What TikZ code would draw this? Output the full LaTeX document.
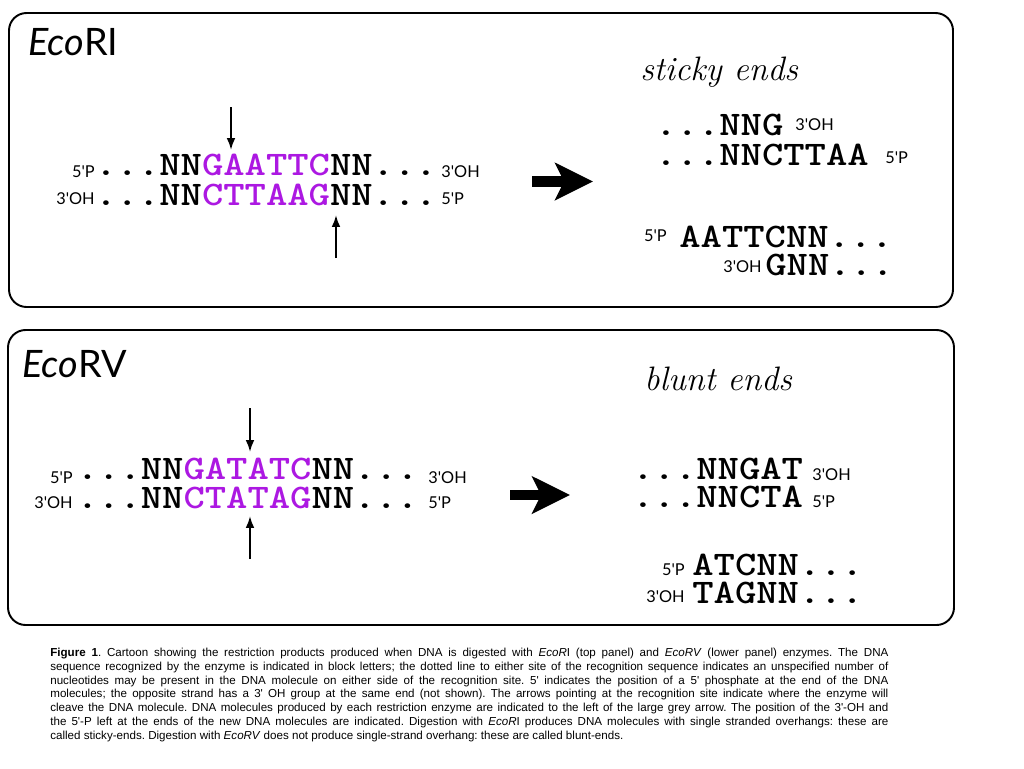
\documentclass[tikz,border=0pt]{standalone}
\usepackage{fontspec}
\usepackage{tikz}
\usetikzlibrary{arrows.meta}
\newfontfamily\seqfont{lmmonolt10-bold}[Extension=.otf, FakeStretch=1.18]
\newfontfamily\labfont{Lato}[Ligatures=TeXOff]
\newfontfamily\capfont{Liberation Sans}[Ligatures=TeXOff]
\definecolor{site}{RGB}{172,24,226}

\begin{document}
\begin{tikzpicture}[x=0.02cm, y=-0.02cm,
    panel/.style={draw, line width=1.1pt, rounded corners=10pt},
    seq/.style={inner sep=0pt, anchor=base west, font=\fontsize{19.6pt}{20pt}\selectfont\seqfont},
    lab/.style={inner sep=0pt, font=\fontsize{9.3pt}{10pt}\selectfont\labfont},
    title/.style={inner sep=0pt, anchor=base west, font=\fontsize{21.5pt}{22pt}\selectfont\labfont},
    ends/.style={inner sep=0pt, anchor=base west, font=\fontsize{19.3pt}{20pt}\selectfont\itshape},
    cut/.style={line width=1.1pt, -{Latex[length=6.8pt, width=5pt]}},
    bigarrow/.style={line width=6.2pt, -{Stealth[length=21.5pt, width=21pt, inset=5pt]}}]
    \useasboundingbox (0,0) rectangle (1024,768);
    \fill[white] (0,0) rectangle (1024,768);

    \draw[panel] (9,13) rectangle (953,307);
    \draw[panel] (8,330) rectangle (954,625);

    % EcoRI
    \node[title] (titleRI) at (28,55) {\textit{Eco}RI};
    \node[seq] (topRI) at (95,175) {...NN\textcolor{site}{GAATTC}NN...};
    \node[seq] (botRI) at (95,205) {...NN\textcolor{site}{CTTAAG}NN...};
    \node[lab, anchor=base east] (topRIl) at (95,177) {5'P};
    \node[lab, anchor=base east] (botRIl) at (95,204) {3'OH};
    \node[lab, anchor=base west] (topRIr) at (441,177) {3'OH};
    \node[lab, anchor=base west] (botRIr) at (441,204) {5'P};
    \coordinate (cutRIa) at (231,107);
    \coordinate (cutRIb) at (231,150);
    \coordinate (cutRIc) at (336,258);
    \coordinate (cutRId) at (336,215);
    \draw[cut] (cutRIa) -- (cutRIb);
    \draw[cut] (cutRIc) -- (cutRId);
    \coordinate (goRIa) at (532,181.5);
    \coordinate (goRIb) at (593,181.5);
    \draw[bigarrow] (goRIa) -- (goRIb);
    \node[ends] (sticky) at (640,80) {sticky ends};
    \node[seq] (stA) at (655,135) {...NNG};
    \node[lab, anchor=base west] (stAl) at (795,130) {3'OH};
    \node[seq] (stB) at (655,165) {...NNCTTAA};
    \node[lab, anchor=base west] (stBl) at (885,163) {5'P};
    \node[seq] (stC) at (679,247) {AATTCNN...};
    \node[lab, anchor=base east] (stCl) at (667,241) {5'P};
    \node[seq] (stD) at (765,275) {GNN...};
    \node[lab, anchor=base east] (stDl) at (762,272) {3'OH};

    % EcoRV
    \node[title] (titleRV) at (22,377) {\textit{Eco}RV};
    \node[seq] (topRV) at (76.5,479) {...NN\textcolor{site}{GATATC}NN...};
    \node[seq] (botRV) at (76.5,508) {...NN\textcolor{site}{CTATAG}NN...};
    \node[lab, anchor=base east] (topRVl) at (73,483) {5'P};
    \node[lab, anchor=base east] (botRVl) at (73,508) {3'OH};
    \node[lab, anchor=base west] (topRVr) at (428,483) {3'OH};
    \node[lab, anchor=base west] (botRVr) at (428,508) {5'P};
    \coordinate (cutRVa) at (250,408);
    \coordinate (cutRVb) at (250,452);
    \coordinate (cutRVc) at (250,559);
    \coordinate (cutRVd) at (250,516);
    \draw[cut] (cutRVa) -- (cutRVb);
    \draw[cut] (cutRVc) -- (cutRVd);
    \coordinate (goRVa) at (510,495);
    \coordinate (goRVb) at (570,495);
    \draw[bigarrow] (goRVa) -- (goRVb);
    \node[ends] (blunt) at (644,390) {blunt ends};
    \node[seq] (blA) at (632,479) {...NNGAT};
    \node[lab, anchor=base west] (blAl) at (812,480) {3'OH};
    \node[seq] (blB) at (632,507) {...NNCTA};
    \node[lab, anchor=base west] (blBl) at (812,507) {5'P};
    \node[seq] (blC) at (692,575) {ATCNN...};
    \node[lab, anchor=base east] (blCl) at (685,575) {5'P};
    \node[seq] (blD) at (692,603) {TAGNN...};
    \node[lab, anchor=base east] (blDl) at (685,602) {3'OH};

    \node[inner sep=0pt, anchor=north west, text width=477pt, align=justify,
          font=\fontsize{6.6pt}{7.82pt}\selectfont\capfont\frenchspacing] (caption) at (50,648)
      {\textbf{Figure 1}. Cartoon showing the restriction products produced when DNA is digested with \textit{EcoR}I (top panel) and \textit{EcoRV} (lower panel) enzymes. The DNA\linebreak
       sequence recognized by the enzyme is indicated in block letters; the dotted line to either site of the recognition sequence indicates an unspecified number of\linebreak
       nucleotides may be present in the DNA molecule on either side of the recognition site. 5' indicates the position of a 5' phosphate at the end of the DNA\linebreak
       molecules; the opposite strand has a 3' OH group at the same end (not shown). The arrows pointing at the recognition site indicate where the enzyme will\linebreak
       cleave the DNA molecule. DNA molecules produced by each restriction enzyme are indicated to the left of the large grey arrow. The position of the 3'-OH and\linebreak
       the 5'-P left at the ends of the new DNA molecules are indicated. Digestion with \textit{EcoR}I produces DNA molecules with single stranded overhangs: these are\linebreak
       called sticky-ends. Digestion with \textit{EcoRV} does not produce single-strand overhang: these are called blunt-ends.};
\end{tikzpicture}
\end{document}
